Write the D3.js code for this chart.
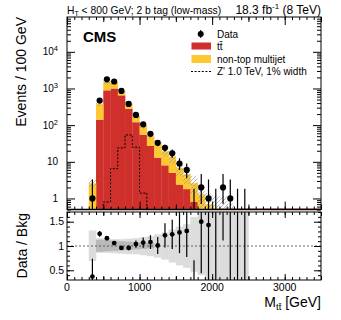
<!DOCTYPE html>
<html>
<head>
<meta charset="utf-8">
<script src="https://cdn.jsdelivr.net/npm/d3@7"></script>
<style>
  body { margin: 0; background: #fff; }
  text { font-family: "Liberation Sans", Arial, Helvetica, sans-serif; fill: #000; }
</style>
</head>
<body>
<svg width="341" height="320"></svg>
<script>
// Histogram bins (100 GeV wide)
var binCenters = [350, 450, 550, 650, 750, 850, 950, 1050, 1150, 1250, 1350, 1450, 1550, 1650, 1750, 1850, 1950, 2050, 2150, 2250, 2350, 2450];
var dataCounts = [1, 468, 1780, 1550, 855, 378, 190, 105, 58, 33, 24, 17, 9, 6, 0, 2, 1, 0, 2, 1, 0, 0];
var ttbar      = [0, 141, 890, 1000, 650, 280, 120, 55, 27, 13, 8, 5, 2.4, 1.8, 0.8, 0.3, 0, 0, 0, 0, 0, 0];
var multijet   = [2.6, 239, 620, 435, 222, 106, 59, 41, 26, 19, 11.4, 8.5, 4.4, 2.7, 1.8, 1.0, 0.69, 0.55, 0.52, 0.3, 0.2, 0.15];
var zprime     = [0, 0, 0.8, 6.5, 24, 54, 25, 1.4, 0, 0, 0, 0, 0, 0, 0, 0, 0, 0, 0, 0, 0, 0];
var ratio      = [0.37, 1.25, 1.16, 1.06, 0.96, 0.96, 1.04, 1.07, 1.08, 1.01, 1.22, 1.24, 1.28, 1.31, 0, 1.50, 1.43, 0, 3.8, 3.3, 0, 0];
// relative uncertainty bands (light grey = total, dark grey = stat.)
var systLo = [0.69, 0.86, 0.86, 0.85, 0.84, 0.83, 0.83, 0.81, 0.79, 0.76, 0.72, 0.66, 0.60, 0.55, 0.47, 0.40, 0.3, 0.3, 0.3, 0.3, 0.3, 0.3];
var systHi = [1.32, 1.16, 1.15, 1.14, 1.14, 1.15, 1.16, 1.18, 1.20, 1.24, 1.28, 1.34, 1.40, 1.45, 1.6, 1.8, 2.0, 2.2, 2.2, 2.4, 2.4, 2.4];
var statLo = [NaN, 0.88, 0.89, 0.90, 0.91, 0.92, 0.93, 0.94, 0.95];
var statHi = [NaN, 1.13, 1.12, 1.11, 1.10, 1.09, 1.08, 1.07, 1.06];
var xTickLabels = [0, 1000, 2000, 3000];
var ratioTickLabels = [0.5, 1, 1.5];
var logTickLabels = [1, 10, 100, 1000, 10000];

var svg = d3.select("svg");
var binW = 100;
var yMin = 0.5;

// Scales
var x = d3.scaleLinear().domain([0, 3500]).range([67, 321]);
var y = d3.scaleLog().domain([yMin, 89000]).range([209.5, 17]);
var yr = d3.scaleLinear().domain([0.3, 1.7]).range([280, 212]);

var red = "#d0302c", yellow = "#fdc832";

// clip paths
var defs = svg.append("defs");
defs.append("clipPath").attr("id", "clipTop").append("rect")
  .attr("x", 67).attr("y", 17).attr("width", 254).attr("height", 192.5);
defs.append("clipPath").attr("id", "clipBot").append("rect")
  .attr("x", 67).attr("y", 212).attr("width", 254).attr("height", 68);
var hatch = defs.append("pattern").attr("id", "hatch")
  .attr("patternUnits", "userSpaceOnUse").attr("width", 4).attr("height", 4);
hatch.append("path").attr("d", "M-1,1 l2,-2 M0,4 l4,-4 M3,5 l2,-2")
  .attr("stroke", "#9a9a9a").attr("stroke-width", 0.7);

// ---------------- top panel ----------------
var rows = binCenters.map(function(c, i) { return { c: c, ttbar: ttbar[i], multijet: multijet[i] }; });
var stacked = d3.stack().keys(["ttbar", "multijet"])(rows);
var colors = { ttbar: red, multijet: yellow };

var topPanel = svg.append("g").attr("clip-path", "url(#clipTop)");

// thin ttbar line along the baseline
topPanel.append("line")
  .attr("x1", x(300)).attr("x2", x(3500))
  .attr("y1", y(yMin) - 0.5).attr("y2", y(yMin) - 0.5)
  .attr("stroke", red).attr("stroke-width", 1);

stacked.forEach(function(layer) {
  topPanel.append("g").selectAll("rect")
    .data(layer)
    .enter().append("rect")
      .attr("x", function(d) { return x(d.data.c - binW / 2); })
      .attr("width", function(d) { return x(d.data.c + binW / 2) - x(d.data.c - binW / 2) + 0.3; })
      .attr("y", function(d) { return y(Math.max(d[1], yMin)); })
      .attr("height", function(d) { return Math.max(0, y(Math.max(d[0], yMin)) - y(Math.max(d[1], yMin))); })
      .attr("fill", colors[layer.key]);
});

// hatched uncertainty band on total background
topPanel.append("g").selectAll("rect")
  .data(binCenters)
  .enter().append("rect")
    .attr("x", function(c) { return x(c - binW / 2); })
    .attr("width", x(binW) - x(0))
    .attr("y", function(c, i) { return y(Math.max((ttbar[i] + multijet[i]) * systHi[i], yMin)); })
    .attr("height", function(c, i) {
      var tot = ttbar[i] + multijet[i];
      return Math.max(0, y(Math.max(tot * systLo[i], yMin)) - y(Math.max(tot * systHi[i], yMin)));
    })
    .attr("fill", "url(#hatch)");

// Z' signal (dotted step line)
var zpts = [];
for (var i = 1; i <= 8; i++) zpts.push([binCenters[i] - binW / 2, zprime[i]]);
zpts.push([binCenters[8] + binW / 2, zprime[8]]);
topPanel.append("path")
  .attr("d", d3.line()
    .x(function(d) { return x(d[0]); })
    .y(function(d) { return y(Math.max(d[1], yMin)); })
    .curve(d3.curveStepAfter)(zpts))
  .attr("fill", "none").attr("stroke", "#000").attr("stroke-width", 1)
  .attr("stroke-dasharray", "2,1.6");

// data points with Poisson error bars
function poisson(n) {
  if (n === 0) return [0, 1.84];
  if (n === 1) return [0.17, 3.3];
  if (n === 2) return [0.71, 4.64];
  return [n - Math.sqrt(n), n + Math.sqrt(n) + 0.5];
}
topPanel.append("g").selectAll("line")
  .data(binCenters)
  .enter().append("line")
    .attr("x1", function(c) { return x(c); }).attr("x2", function(c) { return x(c); })
    .attr("y1", function(c, i) { return y(Math.max(poisson(dataCounts[i])[0], yMin)); })
    .attr("y2", function(c, i) { return y(poisson(dataCounts[i])[1]); })
    .attr("stroke", "#000").attr("stroke-width", 1.2);
topPanel.append("g").selectAll("circle")
  .data(binCenters.filter(function(c, i) { return dataCounts[i] > 0; }))
  .enter().append("circle")
    .attr("cx", function(c) { return x(c); })
    .attr("cy", function(c) { return y(dataCounts[binCenters.indexOf(c)]); })
    .attr("r", 3.1).attr("fill", "#000");

// ---------------- ratio panel ----------------
var botPanel = svg.append("g").attr("clip-path", "url(#clipBot)");
botPanel.append("g").selectAll("rect")
  .data(binCenters)
  .enter().append("rect")
    .attr("x", function(c) { return x(c - binW / 2); })
    .attr("width", x(binW) - x(0) + 0.3)
    .attr("y", function(c, i) { return yr(Math.min(systHi[i], 1.8)); })
    .attr("height", function(c, i) { return yr(systLo[i]) - yr(Math.min(systHi[i], 1.8)); })
    .attr("fill", "#dcdcdc");
botPanel.append("g").selectAll("rect")
  .data(binCenters.filter(function(c, i) { return i < statLo.length && !isNaN(statLo[i]); }))
  .enter().append("rect")
    .attr("x", function(c) { return x(c - binW / 2); })
    .attr("width", x(binW) - x(0) + 0.3)
    .attr("y", function(c) { return yr(statHi[binCenters.indexOf(c)]); })
    .attr("height", function(c) { var i = binCenters.indexOf(c); return yr(statLo[i]) - yr(statHi[i]); })
    .attr("fill", "#b9b9b9");

botPanel.append("line")
  .attr("x1", 67).attr("x2", 321).attr("y1", yr(1)).attr("y2", yr(1))
  .attr("stroke", "#444").attr("stroke-width", 0.8).attr("stroke-dasharray", "2,2");

function ratioErr(i) {
  var n = dataCounts[i];
  if (n > 0) return [ratio[i] - ratio[i] / Math.sqrt(n), ratio[i] + ratio[i] / Math.sqrt(n)];
  return [0, 1.84 / (ttbar[i] + multijet[i])];
}
botPanel.append("g").selectAll("line")
  .data(binCenters)
  .enter().append("line")
    .attr("x1", function(c) { return x(c); }).attr("x2", function(c) { return x(c); })
    .attr("y1", function(c, i) { return yr(Math.max(ratioErr(i)[0], 0.2)); })
    .attr("y2", function(c, i) { return yr(Math.min(ratioErr(i)[1], 1.8)); })
    .attr("stroke", "#000").attr("stroke-width", 1.2);
botPanel.append("g").selectAll("circle")
  .data(binCenters.filter(function(c, i) { return dataCounts[i] > 0; }))
  .enter().append("circle")
    .attr("cx", function(c) { return x(c); })
    .attr("cy", function(c) { return yr(ratio[binCenters.indexOf(c)]); })
    .attr("r", 2.4).attr("fill", "#000");

// ---------------- axes ----------------
function noDomain(g) { g.select(".domain").remove(); g.selectAll(".tick line").attr("stroke", "#000"); }

var xMinor = d3.range(0, 3501, 100), xMid = d3.range(500, 3501, 1000), xMajor = d3.range(0, 3501, 1000);
function xTicks(yPos, isBottom, sizes) {
  var mk = isBottom ? d3.axisBottom : d3.axisTop;
  [[xMinor, sizes[0]], [xMid, sizes[1]], [xMajor, sizes[2]]].forEach(function(t) {
    svg.append("g").attr("transform", "translate(0," + yPos + ")")
      .call(mk(x).tickValues(t[0]).tickSize(-t[1]).tickFormat(""))
      .call(noDomain);
  });
}
xTicks(209.5, true, [3, 5, 8]);
xTicks(17, false, [3, 5, 8]);
xTicks(280, true, [3, 4, 6]);
xTicks(212, false, [3, 4, 6]);

// x labels
svg.append("g").selectAll("text")
  .data(xTickLabels)
  .enter().append("text")
    .attr("x", function(d) { return x(d); }).attr("y", 291)
    .attr("text-anchor", "middle").attr("font-size", 10.5)
    .text(function(d) { return d; });

// log y ticks
var logAll = y.ticks();
var logMinor = logAll.filter(function(v) { return Math.abs(Math.log10(v) - Math.round(Math.log10(v))) > 1e-6; });
[[d3.axisLeft, 67], [d3.axisRight, 321]].forEach(function(a) {
  svg.append("g").attr("transform", "translate(" + a[1] + ",0)")
    .call(a[0](y).tickValues(logMinor).tickSize(-4).tickFormat("")).call(noDomain);
  svg.append("g").attr("transform", "translate(" + a[1] + ",0)")
    .call(a[0](y).tickValues(logTickLabels).tickSize(-8).tickFormat("")).call(noDomain);
});
var logLab = svg.append("g").selectAll("text")
  .data(logTickLabels)
  .enter().append("text")
    .attr("x", 58).attr("y", function(d) { return y(d) + 3.5; })
    .attr("text-anchor", "end").attr("font-size", 10);
logLab.each(function(d) {
  var t = d3.select(this), e = Math.round(Math.log10(d));
  if (e === 0) t.text("1");
  else if (e === 1) t.text("10");
  else { t.append("tspan").text("10"); t.append("tspan").attr("dy", -4).attr("font-size", 7.5).text(e); }
});

// ratio y ticks
var rMinor = d3.range(4, 18).map(function(v) { return v / 10; });
[[d3.axisLeft, 67], [d3.axisRight, 321]].forEach(function(a) {
  svg.append("g").attr("transform", "translate(" + a[1] + ",0)")
    .call(a[0](yr).tickValues(rMinor).tickSize(-3).tickFormat("")).call(noDomain);
  svg.append("g").attr("transform", "translate(" + a[1] + ",0)")
    .call(a[0](yr).tickValues(ratioTickLabels).tickSize(-7).tickFormat("")).call(noDomain);
});
svg.append("g").selectAll("text")
  .data(ratioTickLabels)
  .enter().append("text")
    .attr("x", 64).attr("y", function(d) { return yr(d) + 3.5; })
    .attr("text-anchor", "end").attr("font-size", 10.5)
    .text(function(d) { return d; });

// frames
svg.append("rect").attr("x", 67).attr("y", 17).attr("width", 254).attr("height", 192.5)
  .attr("fill", "none").attr("stroke", "#000").attr("stroke-width", 1);
svg.append("rect").attr("x", 67).attr("y", 212).attr("width", 254).attr("height", 68)
  .attr("fill", "none").attr("stroke", "#000").attr("stroke-width", 1);
svg.append("line").attr("x1", 67).attr("x2", 321).attr("y1", 209.5).attr("y2", 209.5)
  .attr("stroke", "#000").attr("stroke-width", 1.5);

// ---------------- texts ----------------
var hdr = svg.append("text").attr("x", 67).attr("y", 14).attr("font-size", 10.3);
hdr.append("tspan").text("H");
hdr.append("tspan").attr("font-size", 7).attr("dy", 2).text("T");
hdr.append("tspan").attr("dy", -2).text(" < 800 GeV; 2 b tag (low-mass)");

var lumi = svg.append("text").attr("x", 321).attr("y", 14).attr("text-anchor", "end").attr("font-size", 12);
lumi.append("tspan").text("18.3 fb");
lumi.append("tspan").attr("font-size", 8).attr("dy", -5).text("-1");
lumi.append("tspan").attr("dy", 5).text(" (8 TeV)");

svg.append("text").attr("x", 83).attr("y", 42).attr("font-size", 15).attr("font-weight", "bold").text("CMS");

svg.append("text").attr("transform", "translate(26,17) rotate(-90)")
  .attr("text-anchor", "end").attr("font-size", 14).text("Events / 100 GeV");
svg.append("text").attr("transform", "translate(27,213) rotate(-90)")
  .attr("text-anchor", "end").attr("font-size", 14).text("Data / Bkg");

var xt = svg.append("text").attr("x", 321).attr("y", 307).attr("text-anchor", "end").attr("font-size", 14);
xt.append("tspan").text("M");
xt.append("tspan").attr("font-size", 9.5).attr("dy", 3).text("t\u0074\u0304");
xt.append("tspan").attr("dy", -3).text(" [GeV]");

// legend
var lg = svg.append("g");
lg.append("line").attr("x1", 200.7).attr("x2", 200.7).attr("y1", 30).attr("y2", 38).attr("stroke", "#000");
lg.append("circle").attr("cx", 200.7).attr("cy", 34).attr("r", 3).attr("fill", "#000");
lg.append("text").attr("x", 217).attr("y", 37.5).attr("font-size", 10).text("Data");
lg.append("rect").attr("x", 191.5).attr("y", 42.5).attr("width", 19.5).attr("height", 7).attr("fill", red);
lg.append("text").attr("x", 217).attr("y", 50).attr("font-size", 10).text("t\u0074\u0304");
lg.append("rect").attr("x", 191.5).attr("y", 55).attr("width", 19.5).attr("height", 8).attr("fill", yellow);
lg.append("text").attr("x", 217).attr("y", 62.5).attr("font-size", 10).text("non-top multijet");
lg.append("line").attr("x1", 191).attr("x2", 211).attr("y1", 71.5).attr("y2", 71.5)
  .attr("stroke", "#000").attr("stroke-dasharray", "2,1.6");
lg.append("text").attr("x", 217).attr("y", 75).attr("font-size", 10).text("Z' 1.0 TeV, 1% width");
</script>
</body>
</html>
